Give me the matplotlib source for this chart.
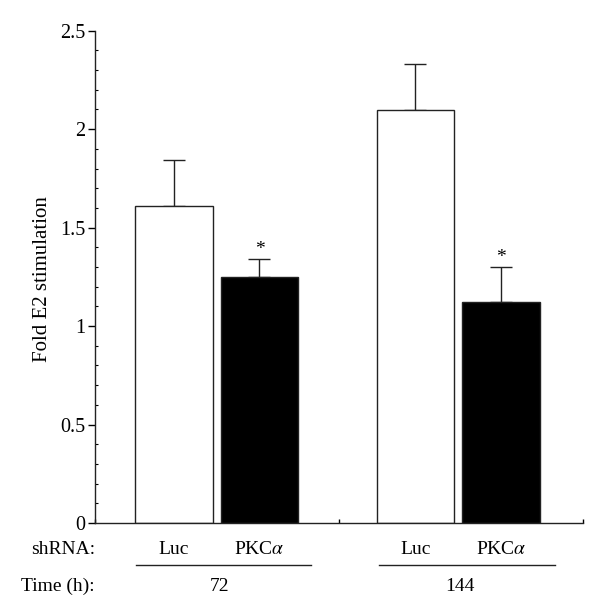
import numpy as np
import matplotlib.pyplot as plt
from matplotlib.transforms import blended_transform_factory

plt.rcParams['font.family'] = ['Liberation Serif', 'DejaVu Serif']
plt.rcParams['mathtext.fontset'] = 'stix'

# valores
shrna = ['Luc', r'PKC$\alpha$', 'Luc', r'PKC$\alpha$']
times_h = ['72', '144']
x_pos = [0.323, 0.674, 1.313, 1.665]
fold = [1.61, 1.248, 2.097, 1.12]
err = [0.232, 0.094, 0.232, 0.178]
signif = [False, True, False, True]
group_span = [(0.170, 0.887), (1.164, 1.884)]
group_center = [0.51, 1.496]

fig = plt.figure(figsize=(6.0, 6.05), dpi=100)
ax = fig.add_axes([0.1583, 0.1355, 0.8133, 0.8138])

colors = ['white', 'black', 'white', 'black']
ax.bar(x_pos, fold, width=0.318, color=colors, edgecolor='#222222',
       linewidth=1.0, zorder=2)
for x, y, e in zip(x_pos, fold, err):
    ax.errorbar(x, y, yerr=[[0], [e]], fmt='none', ecolor='#222222',
                elinewidth=1.0, capsize=8, capthick=1.0, zorder=1)

for x, y, e, s in zip(x_pos, fold, err, signif):
    if s:
        ax.text(x, y + e + 0.005, '*', ha='center', va='bottom', fontsize=14)

ax.set_xlim(0, 2)
ax.set_ylim(0, 2.5)
ax.set_yticks([0, 0.5, 1, 1.5, 2, 2.5])
ax.set_yticklabels(['0', '0.5', '1', '1.5', '2', '2.5'])
ax.set_yticks(np.arange(0, 2.51, 0.1), minor=True)
ax.set_xticks([0, 1, 2])
ax.set_xticklabels([])
ax.tick_params(axis='y', which='major', direction='out', length=5,
               width=1.0, labelsize=14.5, pad=2)
ax.tick_params(axis='y', which='minor', direction='in', length=2.5, width=0.8)
ax.tick_params(axis='x', which='major', direction='in', length=3, width=1.0)
for side in ['top', 'right']:
    ax.spines[side].set_visible(False)
for side in ['left', 'bottom']:
    ax.spines[side].set_linewidth(1.0)
    ax.spines[side].set_color('#222222')

ax.set_ylabel('Fold E2 stimulation', fontsize=15)
ax.yaxis.set_label_coords(-0.088, 0.495)

# etiquetas debajo del eje
tr = blended_transform_factory(ax.transData, ax.transAxes)
ax.text(0, -0.063, 'shRNA:', transform=tr, ha='right', va='baseline', fontsize=14)
ax.text(0, -0.138, 'Time (h):', transform=tr, ha='right', va='baseline', fontsize=14)
for x, lab in zip(x_pos, shrna):
    ax.text(x, -0.063, lab, transform=tr, ha='center', va='baseline', fontsize=14)
for (a, b), c, t in zip(group_span, group_center, times_h):
    ax.plot([a, b], [-0.0845, -0.0845], transform=tr, color='#222222',
            linewidth=1.0, clip_on=False)
    ax.text(c, -0.138, t, transform=tr, ha='center', va='baseline', fontsize=14)

plt.savefig('out.png', dpi=100)
